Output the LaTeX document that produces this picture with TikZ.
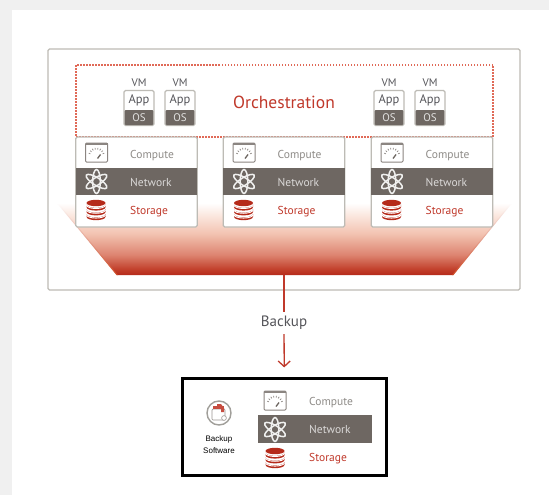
\documentclass[tikz,border=0pt]{standalone}
\usepackage{fontspec}
\setmainfont{PT Sans}
\newfontfamily\labelfont{Liberation Sans}
\usetikzlibrary{arrows.meta}
\definecolor{fjred}{HTML}{C0392B}
\definecolor{fjdark}{HTML}{B52A1A}
\definecolor{fjdots}{HTML}{E06A58}
\definecolor{band}{HTML}{6E6762}
\definecolor{edgegray}{HTML}{BDBBB5}
\definecolor{txtgray}{HTML}{8F8C88}
\definecolor{txtdark}{HTML}{55555A}
\definecolor{fs1}{HTML}{C03C28}
\definecolor{fs2}{HTML}{DD8470}
\definecolor{fs3}{HTML}{F3C4B2}
\definecolor{fs4}{HTML}{FBE8E0}
\pgfdeclareverticalshading{funnelsh}{100bp}{color(0bp)=(fjdark);color(25bp)=(fjdark);color(28.5bp)=(fs1);color(39bp)=(fs2);color(54bp)=(fs3);color(66.7bp)=(fs4);color(75bp)=(white);color(100bp)=(white)}
\tikzset{
  x=1pt,y=-1pt,
  framebox/.style={draw=edgegray,line width=1.2pt,rounded corners=1.5pt,fill=white,inner sep=0pt,outer sep=0pt},
  bandbox/.style={fill=band,inner sep=0pt,outer sep=0pt},
  lbl/.style={inner sep=0pt,font=\fontsize{11.5}{12}\selectfont},
  computelbl/.style={lbl,text=txtgray},
  networklbl/.style={lbl,text=white!75!band},
  storagelbl/.style={lbl,text=fjred},
  gaugeicon/.pic={
    \draw[draw=band!80,line width=1pt,fill=white,rounded corners=1pt] (-11,-9.5) rectangle (11,9.5);
    \fill[band!80] (-11,-9.5) rectangle (11,-7.2);
    \foreach \a in {200,220,240,260,280,300,320,340}
      \draw[band!80,line width=.7pt] (\a:6.5) ++(0,3.5) -- ++(\a:1.8);
    \draw[band,line width=1.3pt] (1,6) -- (4,2);
  },
  atomicon/.pic={
    \foreach \a in {32,90,148}
      \draw[white!90!band,line width=1.5pt,rotate=\a] (0,0) ellipse[x radius=12,y radius=3.8];
  },
  dbicon/.pic={
    \foreach \yy in {6.6,1.8,-3}{
      \fill[fjdark] (-9.5,\yy-2.5) -- (-9.5,\yy+.2) arc[start angle=180,end angle=0,x radius=9.5,y radius=3.4] -- (9.5,\yy-2.5) arc[start angle=0,end angle=180,x radius=9.5,y radius=3.4] -- cycle;
      \draw[white,line width=.9pt] (-9.5,\yy-1.9) arc[start angle=180,end angle=0,x radius=9.5,y radius=3.4];
    }
    \fill[fjdark] (0,-7) ellipse[x radius=9.5,y radius=3.2];
  },
  vmapp/.pic={
    \node[framebox,minimum width=30pt,minimum height=35pt] (-box) at (0,0) {};
    \fill[band,rounded corners=1pt] (-14.4,2) rectangle (14.4,17);
    \node[inner sep=0pt,font=\fontsize{12.5}{13}\selectfont,text=txtdark] (-app) at (0,-8) {App};
    \node[inner sep=0pt,font=\fontsize{11}{12}\selectfont,text=white!80!band] (-os) at (0,9.5) {OS};
    \node[inner sep=0pt,font=\fontsize{11}{12}\selectfont,text=txtdark] (-vm) at (0,-25.5) {VM};
  },
  server/.pic={
    \node[framebox,minimum width=121.5pt,minimum height=90pt] (-box) at (0,0) {};
    \node[bandbox,minimum width=121.5pt,minimum height=27pt] (-band) at (0,-0.5) {};
    \pic at (-40,-29.5) {gaugeicon};
    \pic at (-40,-0.5) {atomicon};
    \pic at (-40.5,28) {dbicon};
    \node[computelbl,anchor=base west] (-c) at (-6.5,-23.5) {Compute};
    \node[networklbl,anchor=base west] (-n) at (-6.5,4.5) {Network};
    \node[storagelbl,anchor=base west] (-s) at (-6.5,32) {Storage};
  }
}
\begin{document}
\begin{tikzpicture}
\useasboundingbox (0,0) rectangle (549,495);
\fill[black!6] (0,0) rectangle (549,495);
\fill[white] (12,10) rectangle (549,495);
% outer frame
\node[framebox,minimum width=472pt,minimum height=241pt] (outer) at (284,169.5) {};
% funnel
\shade[shading=funnelsh] (57,203) -- (117,275) -- (453,275) -- (512,203) -- cycle;
\shade[top color=white,bottom color=fjred!80!orange]
  (57,203) -- (116.5,275) -- (118,275) -- (58,203) -- cycle;
\shade[top color=white,bottom color=fjred!80!orange]
  (512,203) -- (453.5,275) -- (452,275) -- (511,203) -- cycle;
\coordinate (funnelbase) at (284,275);
% orchestration
\node[draw=fjdots,dash pattern=on 1.5pt off 1.5pt,line width=1.1pt,minimum width=417pt,minimum height=72pt,inner sep=0pt] (orch) at (284.5,101) {};
\node[inner sep=0pt,text=fjred,font=\fontsize{17.5}{18}\selectfont] (orchlabel) at (284,102) {Orchestration};
% VMs
\pic (vma) at (139,108) {vmapp};
\pic (vmb) at (180,108) {vmapp};
\pic (vmc) at (389,108) {vmapp};
\pic (vmd) at (430,108) {vmapp};
% servers
\pic (sa) at (136.5,182) {server};
\pic (sb) at (284,182) {server};
\pic (sc) at (432,182) {server};
% backup
\node[inner sep=1pt,fill=white,text=txtdark,font=\fontsize{15}{16}\selectfont] (bk) at (284,323) {Backup};
\node[draw=black,line width=2.2pt,minimum width=204pt,minimum height=97pt,inner sep=0pt,fill=white] (bkbox) at (284.5,427) {};
\draw[fjred,line width=1.3pt,shorten >=3pt] (funnelbase) -- (bk);
\draw[fjred,line width=1.3pt,shorten <=3pt,shorten >=10pt,-{Straight Barb[length=5.5pt,width=12pt,line width=1.3pt]}] (bk) -- (bkbox);
% backup inner stack
\node[bandbox,minimum width=114pt,minimum height=28pt] (bkband) at (315,429) {};
\pic at (275,400.5) {gaugeicon};
\pic at (275,429.5) {atomicon};
\pic at (275,458) {dbicon};
\node[computelbl,anchor=base west] (bkc) at (309,405) {Compute};
\node[networklbl,anchor=base west] (bkn) at (309,433) {Network};
\node[storagelbl,anchor=base west] (bks) at (309,461.5) {Storage};
% backup software
\node[circle,draw=edgegray!85!black,line width=1.4pt,minimum size=24pt,inner sep=0pt,fill=white] (swicon) at (219,413) {};
\draw[band!70,line width=.7pt,rounded corners=1pt] (212,409) rectangle (225,420);
\fill[fjred!90] (213,406) rectangle (224,408.5);
\fill[fjred!90] (217,404) -- (221,404) -- (224,408) -- (224,412) -- (221,412) -- (221,408) -- (217,408) -- cycle;
\draw[band!70,line width=.6pt,fill=white] (224,418) circle[radius=2.4];
\node[inner sep=0pt,align=center,text=black,font=\labelfont\fontsize{8}{12}\selectfont] (swlabel) at (219,445) {Backup\\Software};
\end{tikzpicture}
\end{document}
